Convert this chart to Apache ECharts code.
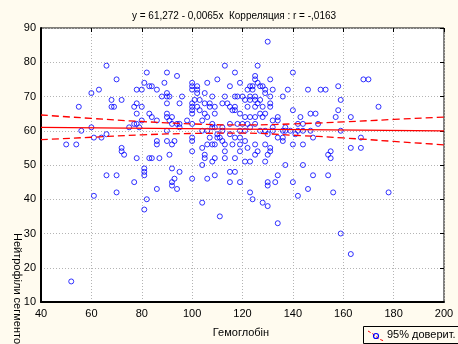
<!DOCTYPE html>
<html>
<head>
<meta charset="utf-8">
<script src="https://cdn.jsdelivr.net/npm/echarts@6/dist/echarts.min.js"></script>
<style>
html,body{margin:0;padding:0;background:#fffbef;}
#c{width:458px;height:344px;}
</style>
</head>
<body>
<div id="c"></div>
<script>
// Scatter points [Гемоглобін, Нейтрофіли]
const points = [
[55,67],[60,71],[63,72],[66,79],[70,75],[68,69],[72,69],[68,67],[69,67],[77,67],[78,68],[80,67],[78,65],[78,72],[80,72],[81,74],[82,77],[83,73],[84,73],[86,72],[83,65],[84,64],[89,74],[90,77],[88,70],[90,71],[90,70],[90,68],[91,70],[94,76],[96,70],[95,68],[90,64],[92,64],[90,65],
[100,74],[100,73],[100,72],[102,73],[102,72],[102,71],[101,69],[103,69],[100,68],[100,67],[102,67],[106,74],[105,71],[105,68],[107,68],[108,70],[107,67],[109,67],[110,75],[109,65],[100,65],
[113,79],[115,73],[117,77],[119,74],[113,70],[115,67],[117,70],[118,70],[116,66],[120,70],[122,67],[124,73],[124,72],[121,69],[123,69],[125,76],[125,75],[126,79],[126,74],[127,73],[128,73],[125,70],[125,69],[126,68],[127,69],[128,67],[125,67],[129,72],[130,86],[131,75],[131,70],[131,68],[131,67],[132,72],[136,70],[138,72],[140,77],[140,66],[146,72],[151,72],[153,72],[158,73],[159,69],[158,66],[168,75],[170,75],[174,67],[143,64],[147,65],[149,65],
[80,63],[86,63],[91,63],[98,63],[104,63],[106,64],[114,68],[112,68],[117,67],[119,65],[117,66],[105,65],[103,66],[100,66],[123,73],[122,72],[123,70],[129,71],
[121,64],[123,64],[125,64],[127,65],[129,65],[128,64],[132,63],[134,63],[134,64],[157,64],[163,64],
[56,60],[60,61],[61,58],[64,58],[66,59],[75,61],[77,62],[79,61],[78,62],[95,62],[95,61],[100,62],[108,62],[108,61],[109,61],[112,61],[112,60],[115,62],[118,62],[120,62],[122,62],[123,61],[125,62],[119,60],[121,60],[90,60],[100,58],[107,58],[111,58],[110,59],[115,59],[117,58],[119,58],[94,62],[92,62],[104,60],[106,60],[142,62],[144,62],[150,62],[147,60],[137,61],[137,60],[136,60],[139,60],[142,60],[144,60],[132,61],[132,60],[127,60],[129,60],[134,58],[136,58],[130,59],[141,59],[148,58],[159,60],[167,58],
[50,56],[54,56],[72,55],[72,54],[73,53],[78,52],[81,49],[81,48],[81,47],[66,47],[70,47],[77,45],[61,41],[70,42],[82,40],[81,37],[83,52],[52,16],[84,52],[87,52],[86,43],[94,43],[92,49],[95,48],[93,46],[92,45],[92,44],[100,46],[104,50],[104,39],[106,46],[109,47],[111,35],
[86,57],[86,56],[90,57],[93,57],[92,56],[91,53],[100,57],[100,54],[104,55],[105,53],[105,52],[108,51],[109,52],[106,56],[108,56],[109,56],[110,58],[112,57],[113,56],[116,56],[113,54],[113,52],[117,52],[119,56],[119,54],[121,57],[122,55],[125,56],[125,53],[126,54],[121,51],[123,51],[115,48],[117,48],[115,45],[119,45],[123,42],[124,40],
[129,56],[131,55],[131,54],[130,53],[129,51],[136,57],[140,56],[144,56],[154,53],[155,54],[155,52],[163,55],[167,55],[137,50],[144,50],[134,47],[148,47],[154,47],[130,45],[130,44],[133,45],[140,45],[146,43],[142,41],[156,42],[128,39],[130,38],[134,33],[159,30],[163,24],[178,42]
];
// Regression line y = 61,272 - 0,0065x (end points)
const fitX = [40, 200];
const fitY = [61.01, 59.97];
// 95% confidence band
const bandX = [40, 60, 80, 100, 120, 140, 160, 180, 200];
const bandUpper = [64.6, 63.6, 62.7, 62.0, 61.7, 62.0, 62.6, 63.3, 64.0];
const bandLower = [57.4, 58.1, 58.8, 59.2, 59.3, 58.7, 57.9, 56.9, 55.9];

const titleText = 'y = 61,272 - 0,0065x  Корреляция : r = -,0163';
const xName = 'Гемоглобін';
const yName = 'Нейтрофіли сегментоядерні';
const legendText = '95% доверит.';

const chart = echarts.init(document.getElementById('c'), null, {renderer:'canvas'});
const font = 'Liberation Sans, Arial, sans-serif';
const gridLine = {show:true, lineStyle:{color:'#b4b4b4', type:[1,2], width:1}};
chart.setOption({
  backgroundColor:'#fffbef',
  animation:false,
  title:{text:titleText, left:229, top:6, textAlign:'center',
    textStyle:{fontSize:10, fontWeight:'normal', color:'#000', fontFamily:font}},
  grid:{left:41, right:14, top:28, bottom:42, show:true, backgroundColor:'#ffffff', borderColor:'#000', borderWidth:1},
  xAxis:[{type:'value', min:40, max:200, interval:20,
    axisLine:{show:true, lineStyle:{color:'#000', width:2}},
    axisTick:{show:false},
    axisLabel:{color:'#000', fontSize:11, fontFamily:font, margin:6},
    splitLine:gridLine},
    {type:'value', position:'top', min:40, max:200, interval:20,
    axisLine:{show:false}, axisTick:{show:true, inside:true, length:4, lineStyle:{color:'#000'}},
    axisLabel:{show:false}, splitLine:{show:false}}],
  yAxis:[{type:'value', min:10, max:90, interval:10,
    axisLine:{show:true, lineStyle:{color:'#000', width:2}},
    axisTick:{show:false},
    axisLabel:{color:'#000', fontSize:11, fontFamily:font, margin:5},
    splitLine:gridLine},
    {type:'value', position:'right', min:10, max:90, interval:10,
    axisLine:{show:false}, axisTick:{show:true, inside:true, length:4, lineStyle:{color:'#000'}},
    axisLabel:{show:false}, splitLine:{show:false}}],
  series:[
    {type:'scatter', data:points, symbol:'circle', symbolSize:5,
      itemStyle:{color:'transparent', borderColor:'#0000ff', borderWidth:1}, z:3},
    {type:'line', data:fitX.map((x,i)=>[x,fitY[i]]), symbol:'none',
      lineStyle:{color:'#ff0000', width:1.3}, z:4},
    {type:'line', data:bandX.map((x,i)=>[x,bandUpper[i]]), symbol:'none', smooth:true,
      lineStyle:{color:'#ff0000', width:1.3, type:[7,4]}, z:4},
    {type:'line', data:bandX.map((x,i)=>[x,bandLower[i]]), symbol:'none', smooth:true,
      lineStyle:{color:'#ff0000', width:1.3, type:[7,4]}, z:4}
  ],
  graphic:[
    {type:'text', x:17, y:233, rotation:-Math.PI/2,
      style:{text:yName, fontSize:11, fontFamily:font, fill:'#000', textAlign:'left', textVerticalAlign:'middle', verticalAlign:'middle'}},
    {type:'text', x:241, y:333,
      style:{text:xName, fontSize:11, fontFamily:font, fill:'#000', textAlign:'center', textVerticalAlign:'middle', verticalAlign:'middle'}},
    {type:'rect', shape:{x:363.5, y:326.5, width:100, height:17}, style:{fill:'#fffbef', stroke:'#000', lineWidth:1}},
    {type:'polyline', shape:{points:[[368,331],[373,334],[379,339],[384,341]]}, style:{stroke:'#ff0000', lineWidth:1, lineDash:[3,2], fill:null}},
    {type:'circle', shape:{cx:376, cy:336, r:2.5}, style:{stroke:'#0000ff', fill:'none', lineWidth:1.2}},
    {type:'text', x:387, y:335,
      style:{text:legendText, fontSize:11, fontFamily:font, fill:'#000', textAlign:'left', textVerticalAlign:'middle', verticalAlign:'middle'}}
  ]
});
</script>
</body>
</html>
